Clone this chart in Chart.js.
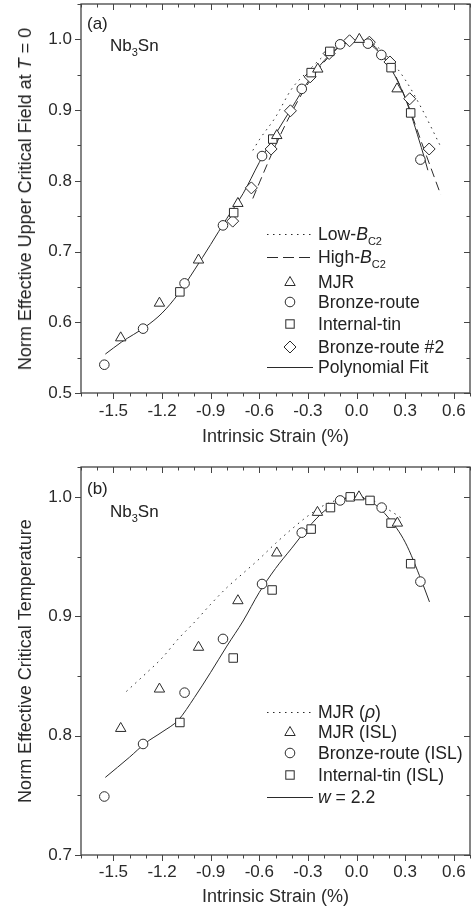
<!DOCTYPE html>
<html>
<head>
<meta charset="utf-8">
<script src="https://cdn.jsdelivr.net/npm/chart.js@4.4.1/dist/chart.umd.min.js"></script>
<style>
  html, body { margin: 0; padding: 0; background: #fff; }
  body { width: 473px; height: 912px; position: relative; overflow: hidden;
         font-family: "Liberation Sans", Arial, sans-serif; color: #222; }
  .panel { position: absolute; left: 0; width: 473px; }
  #panel-a { top: 0; height: 455px; }
  #panel-b { top: 455px; height: 457px; }
  .note { position: absolute; font-size: 17px; line-height: 17px; white-space: nowrap; }
  .note sub, .legend-row sub { font-size: 11px; line-height: 0; vertical-align: -5px; }
  .ytitle { position: absolute; font-size: 18px; line-height: 18px; white-space: nowrap;
            transform: translate(-50%, -50%) rotate(-90deg); }
  .legend-row { position: absolute; left: 264px; width: 209px; height: 20px; }
  .legend-row svg { position: absolute; left: 0; top: 0; }
  .legend-row span { position: absolute; left: 54px; top: 0; font-size: 17.6px; line-height: 20px; white-space: nowrap; }
</style>
</head>
<body>
<div class="panel" id="panel-a">
  <canvas id="chart-a" width="473" height="455"></canvas>
  <div class="note" style="left:87px;top:15px;">(a)</div>
  <div class="note" style="left:110px;top:37px;">Nb<sub>3</sub>Sn</div>
  <div class="ytitle" style="left:25px;top:199px;">Norm Effective Upper Critical Field at <i>T</i> = 0</div>
  <div id="legend-a"></div>
</div>
<div class="panel" id="panel-b">
  <canvas id="chart-b" width="473" height="457"></canvas>
  <div class="note" style="left:87px;top:25px;">(b)</div>
  <div class="note" style="left:110px;top:48px;">Nb<sub>3</sub>Sn</div>
  <div id="legend-b"></div>
</div>
<script>
// ---- panel (a): normalised effective upper critical field ----
const mjrAX = [-1.455, -1.216, -0.975, -0.732, -0.492, -0.239, 0.017, 0.250];
const mjrAY = [0.578, 0.627, 0.688, 0.768, 0.864, 0.958, 1.000, 0.930];
const bronzeAX = [-1.556, -1.317, -1.061, -0.824, -0.583, -0.338, -0.101, 0.070, 0.153, 0.394];
const bronzeAY = [0.540, 0.591, 0.655, 0.737, 0.835, 0.930, 0.993, 0.994, 0.978, 0.830];
const tinAX = [-1.090, -0.758, -0.517, -0.280, -0.165, 0.213, 0.334];
const tinAY = [0.643, 0.755, 0.859, 0.953, 0.983, 0.960, 0.896];
const bronze2AX = [-0.764, -0.649, -0.527, -0.408, -0.286, -0.169, -0.043, 0.079, 0.206, 0.328, 0.448];
const bronze2AY = [0.743, 0.790, 0.845, 0.899, 0.947, 0.980, 0.998, 0.996, 0.968, 0.916, 0.845];
const fitAX = [-1.55, -1.45, -1.3, -1.2, -1.1, -1.0, -0.9, -0.8, -0.7, -0.6, -0.5, -0.4, -0.3, -0.2, -0.1, 0.0, 0.1, 0.2, 0.3, 0.4, 0.44];
const fitAY = [0.555, 0.572, 0.594, 0.613, 0.640, 0.674, 0.710, 0.747, 0.782, 0.826, 0.866, 0.903, 0.940, 0.970, 0.991, 0.999, 0.990, 0.963, 0.917, 0.847, 0.815];
const lowAX = [-0.64, -0.6, -0.5, -0.4, -0.3, -0.2, -0.1, 0.0, 0.1, 0.2, 0.3, 0.4, 0.52];
const lowAY = [0.843, 0.858, 0.890, 0.930, 0.955, 0.977, 0.993, 1.000, 0.994, 0.973, 0.943, 0.903, 0.848];
const highAX = [-0.64, -0.6, -0.5, -0.4, -0.3, -0.2, -0.1, 0.0, 0.1, 0.2, 0.3, 0.4, 0.52];
const highAY = [0.775, 0.797, 0.850, 0.897, 0.937, 0.968, 0.990, 0.999, 0.992, 0.965, 0.918, 0.855, 0.780];

// ---- panel (b): normalised effective critical temperature ----
const mjrBX = [-1.455, -1.216, -0.975, -0.732, -0.492, -0.241, 0.015, 0.252];
const mjrBY = [0.806, 0.839, 0.874, 0.913, 0.953, 0.987, 1.000, 0.978];
const bronzeBX = [-1.556, -1.317, -1.061, -0.824, -0.583, -0.338, -0.101, 0.155, 0.394];
const bronzeBY = [0.749, 0.793, 0.836, 0.881, 0.927, 0.970, 0.997, 0.991, 0.929];
const tinBX = [-1.090, -0.761, -0.521, -0.280, -0.161, -0.039, 0.083, 0.213, 0.334];
const tinBY = [0.811, 0.865, 0.922, 0.973, 0.991, 1.000, 0.997, 0.978, 0.944];
const rhoBX = [-1.42, -1.3, -1.2, -1.1, -1.0, -0.9, -0.8, -0.7, -0.6, -0.5, -0.4, -0.3, -0.2, -0.1, 0.0, 0.1, 0.2, 0.28];
const rhoBY = [0.837, 0.852, 0.865, 0.881, 0.895, 0.910, 0.924, 0.936, 0.948, 0.961, 0.973, 0.984, 0.993, 0.998, 1.000, 0.997, 0.989, 0.982];
const w22BX = [-1.55, -1.4, -1.3, -1.2, -1.1, -1.0, -0.9, -0.8, -0.7, -0.6, -0.5, -0.4, -0.3, -0.2, -0.1, 0.0, 0.1, 0.2, 0.3, 0.4, 0.45];
const w22BY = [0.765, 0.782, 0.794, 0.803, 0.813, 0.832, 0.853, 0.875, 0.896, 0.920, 0.940, 0.957, 0.974, 0.988, 0.997, 1.000, 0.995, 0.982, 0.962, 0.930, 0.912];

const xTitle = "Intrinsic Strain (%)";
const yTitleB = "Norm Effective Critical Temperature";
const legendA = [
  { kind: "dot", html: "Low-<i>B</i><sub>C2</sub>" },
  { kind: "dash", html: "High-<i>B</i><sub>C2</sub>" },
  { kind: "triangle", html: "MJR" },
  { kind: "circle", html: "Bronze-route" },
  { kind: "square", html: "Internal-tin" },
  { kind: "diamond", html: "Bronze-route #2" },
  { kind: "solid", html: "Polynomial Fit" },
];
const legendARows = [233.5, 256.5, 281.5, 302, 324, 346.5, 367];
const legendB = [
  { kind: "dot", html: "MJR (<i>&rho;</i>)" },
  { kind: "triangle", html: "MJR (ISL)" },
  { kind: "circle", html: "Bronze-route (ISL)" },
  { kind: "square", html: "Internal-tin (ISL)" },
  { kind: "solid", html: "<i>w</i> = 2.2" },
];
const legendBRows = [256.7, 277.3, 298.3, 320, 341.7];

const INK = "#2a2a2a";
const FONT = "'Liberation Sans', Arial, sans-serif";
Chart.defaults.font.family = FONT;
Chart.defaults.color = INK;

function pts(xs, ys) {
  return xs.map((x, i) => ({ x, y: ys[i] }));
}

function markers(label, xs, ys, style, radius) {
  return {
    label,
    data: pts(xs, ys),
    pointStyle: style,
    pointRadius: radius,
    borderColor: INK,
    backgroundColor: "#fff",
    pointBorderWidth: 1,
    showLine: false,
    order: 1,
  };
}

function curve(label, xs, ys, dash) {
  return {
    label,
    data: pts(xs, ys),
    showLine: true,
    pointRadius: 0,
    borderColor: INK,
    borderWidth: 1,
    borderDash: dash,
    cubicInterpolationMode: "monotone",
    fill: false,
    order: 2,
  };
}

const isMajorX = (v) => Math.abs(Math.round(v * 10)) % 3 === 0;
const isMajorY = (v) => Math.abs(Math.round(v * 20)) % 2 === 0;

// frame plus Origin style ticks: out on bottom/left, in on top/right
const frameTicks = {
  id: "frameTicks",
  afterDraw(chart) {
    const { ctx, chartArea: a, scales } = chart;
    ctx.save();
    ctx.strokeStyle = "#444";
    ctx.lineWidth = 1.3;
    ctx.strokeRect(a.left, a.top, a.right - a.left, a.bottom - a.top);
    ctx.lineWidth = 1;
    ctx.beginPath();
    scales.x.ticks.forEach((t) => {
      const px = Math.round(scales.x.getPixelForValue(t.value)) + 0.5;
      const len = isMajorX(t.value) ? 6 : 3.5;
      ctx.moveTo(px, a.bottom); ctx.lineTo(px, a.bottom + len);
      ctx.moveTo(px, a.top); ctx.lineTo(px, a.top + len);
    });
    scales.y.ticks.forEach((t) => {
      const py = Math.round(scales.y.getPixelForValue(t.value)) + 0.5;
      const len = isMajorY(t.value) ? 6 : 3.5;
      ctx.moveTo(a.left, py); ctx.lineTo(a.left - len, py);
      ctx.moveTo(a.right, py); ctx.lineTo(a.right - len, py);
    });
    ctx.stroke();
    ctx.restore();
  },
};

function options(cfg) {
  return {
    responsive: false,
    animation: false,
    events: [],
    layout: { autoPadding: false, padding: { top: cfg.top, right: 3, left: 0, bottom: 0 } },
    plugins: { legend: { display: false }, tooltip: { enabled: false } },
    scales: {
      x: {
        type: "linear",
        min: -1.7,
        max: 0.7,
        grid: { display: false, drawTicks: false },
        border: { display: false },
        ticks: {
          stepSize: 0.1,
          autoSkip: false,
          maxRotation: 0,
          padding: cfg.xPad,
          font: { size: 17 },
          color: INK,
          callback: (v) => (isMajorX(v) ? Number(v).toFixed(1) : ""),
        },
        title: { display: true, text: xTitle, font: { size: 18 }, color: INK, padding: { top: 0, bottom: cfg.xTitlePad } },
        afterFit: (s) => {
          s.height = cfg.xHeight;
          s.paddingLeft = 0;
          s.paddingRight = 0;
        },
      },
      y: {
        type: "linear",
        min: cfg.yMin,
        max: cfg.yMax,
        grid: { display: false, drawTicks: false },
        border: { display: false },
        ticks: {
          stepSize: 0.05,
          autoSkip: false,
          padding: 9,
          font: { size: 17 },
          color: INK,
          callback: (v) => (isMajorY(v) && v <= 1.0001 ? Number(v).toFixed(1) : ""),
        },
        title: cfg.yTitle
          ? { display: true, text: cfg.yTitle, font: { size: 18 }, color: INK, padding: { top: 15, bottom: 0 } }
          : { display: false },
        afterFit: (s) => {
          s.width = 81;
          s.paddingTop = 0;
          s.paddingBottom = 0;
        },
      },
    },
  };
}

function legendSymbol(kind) {
  const line = (dash) => `<line x1="3" y1="10.5" x2="49" y2="10.5" stroke="${INK}" stroke-width="1" ${dash ? `stroke-dasharray="${dash}"` : ""}/>`;
  const shape = {
    dot: line("1.5 4.5"),
    dash: line("11 5"),
    solid: line(""),
    triangle: `<polygon points="26,4.5 31.2,13.5 20.8,13.5" fill="#fff" stroke="${INK}"/>`,
    circle: `<circle cx="26" cy="10" r="4.8" fill="#fff" stroke="${INK}"/>`,
    square: `<rect x="21.8" y="5.8" width="8.4" height="8.4" fill="#fff" stroke="${INK}"/>`,
    diamond: `<polygon points="26,4 32,10 26,16 20,10" fill="#fff" stroke="${INK}"/>`,
  }[kind];
  return `<svg width="50" height="20" viewBox="0 0 50 20">${shape}</svg>`;
}

function renderLegend(id, items, rows) {
  document.getElementById(id).innerHTML = items
    .map((item, i) => `<div class="legend-row" style="top:${rows[i] - 10}px">${legendSymbol(item.kind)}<span>${item.html}</span></div>`)
    .join("");
}

new Chart(document.getElementById("chart-a"), {
  type: "scatter",
  data: {
    datasets: [
      curve("Low-Bc2", lowAX, lowAY, [1.5, 4.5]),
      curve("High-Bc2", highAX, highAY, [9, 5]),
      curve("Polynomial Fit", fitAX, fitAY, []),
      markers("MJR", mjrAX, mjrAY, "triangle", 6),
      markers("Bronze-route", bronzeAX, bronzeAY, "circle", 4.8),
      markers("Internal-tin", tinAX, tinAY, "rect", 6),
      markers("Bronze-route #2", bronze2AX, bronze2AY, "rectRot", 6),
    ],
  },
  options: options({ top: 4, xHeight: 62, xPad: 8, xTitlePad: 7, yMin: 0.5, yMax: 1.05, yTitle: null }),
  plugins: [frameTicks],
});

new Chart(document.getElementById("chart-b"), {
  type: "scatter",
  data: {
    datasets: [
      curve("MJR (rho)", rhoBX, rhoBY, [1.5, 4.5]),
      curve("w = 2.2", w22BX, w22BY, []),
      markers("MJR (ISL)", mjrBX, mjrBY, "triangle", 6),
      markers("Bronze-route (ISL)", bronzeBX, bronzeBY, "circle", 4.8),
      markers("Internal-tin (ISL)", tinBX, tinBY, "rect", 6),
    ],
  },
  options: options({ top: 12, xHeight: 57, xPad: 7, xTitlePad: 4, yMin: 0.7, yMax: 1.025, yTitle: yTitleB }),
  plugins: [frameTicks],
});

renderLegend("legend-a", legendA, legendARows);
renderLegend("legend-b", legendB, legendBRows);
</script>
</body>
</html>
